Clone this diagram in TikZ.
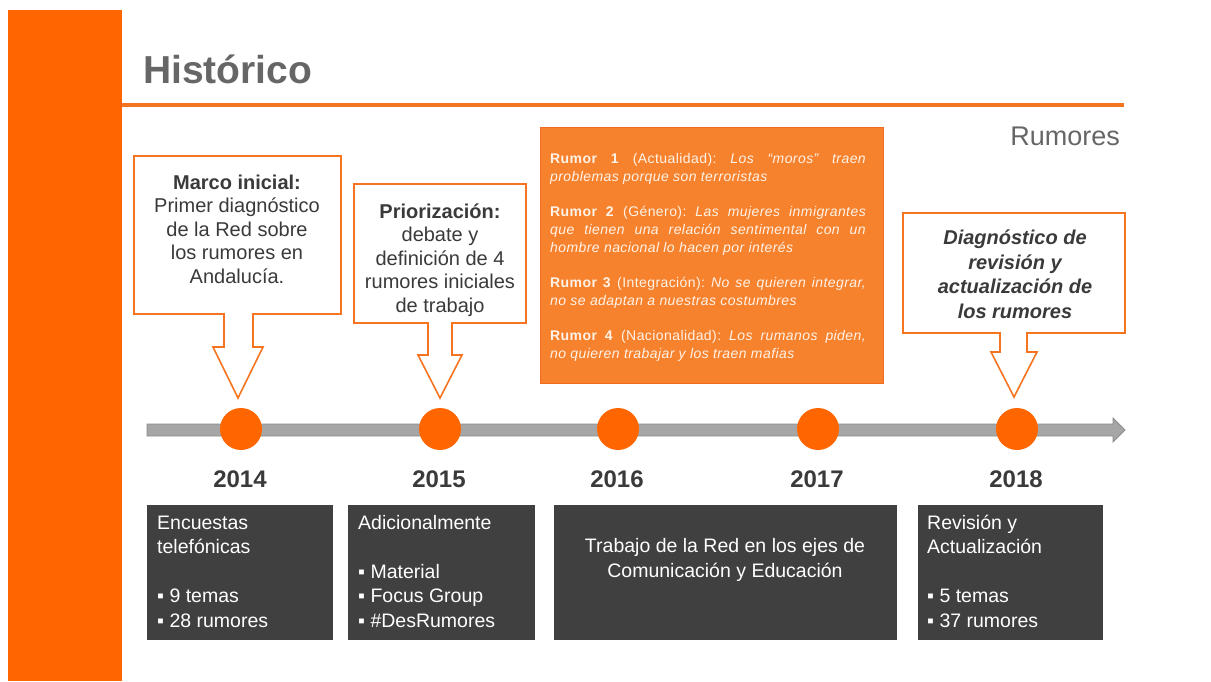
\documentclass[tikz,border=0pt]{standalone}
\usepackage{fontspec}
\setmainfont{Liberation Sans}
\newfontfamily\rumorfont[LetterSpace=3]{Liberation Sans}
\definecolor{brandorange}{HTML}{FF6600}
\definecolor{lineorange}{HTML}{F47420}
\definecolor{rumorfill}{HTML}{F7822E}
\definecolor{rumordraw}{HTML}{F26B1F}
\definecolor{rumortext}{HTML}{FFF3E8}
\definecolor{titlegray}{HTML}{666666}
\definecolor{textdark}{HTML}{3A3A3A}
\definecolor{boxgray}{HTML}{404040}
\definecolor{bargray}{HTML}{A6A6A6}
\definecolor{bardraw}{HTML}{8C8C8C}
\begin{document}
\begin{tikzpicture}[x=1pt,y=-1pt,
    callout/.style={draw=lineorange,line width=1.6pt,fill=white},
    dot/.style={circle,fill=brandorange,minimum size=42pt,inner sep=0pt},
    yearlabel/.style={anchor=base,inner sep=0pt,text=textdark,font=\fontsize{24}{28}\selectfont\bfseries},
    calltext/.style={anchor=base,align=center,inner sep=0pt,text=textdark,font=\fontsize{20}{23.5}\selectfont},
    darkbox/.style={anchor=north west,fill=boxgray,minimum height=135pt,inner sep=0pt},
    boxtext/.style={anchor=base west,align=left,inner sep=0pt,text=white,font=\fontsize{19.5}{24.5}\selectfont}]
    \useasboundingbox (0,0) rectangle (1211,681);

    \fill[brandorange] (8,10) rectangle (122,681);
    \node[anchor=base west,inner sep=0pt,text=titlegray,font=\fontsize{39}{44}\selectfont\bfseries] (title) at (143,83) {Histórico};
    \draw[lineorange,line width=3.5pt] (122,105) -- (1124,105);
    \node[anchor=base east,inner sep=0pt,text=titlegray,font=\fontsize{27}{30}\selectfont] (topic) at (1120,145) {Rumores};

    \pgfmathsetmacro{\ty}{430}
    \draw[bardraw,fill=bargray,line width=0.8pt] (147,\ty-6) -- (1113,\ty-6) -- (1113,\ty-12) -- (1125,\ty) -- (1113,\ty+12) -- (1113,\ty+6) -- (147,\ty+6) -- cycle;

    \foreach \x/\yr in {241/2014,440/2015,618/2016,818/2017,1017/2018} {
      \node[dot] (d\yr) at (\x,\ty-1) {};
      \node[yearlabel] (l\yr) at (\x-1,487) {\yr};
    }

    % multi-line texts sit on the baseline of their last line
    \draw[callout] (134,156) -- (341,156) -- (341,314) -- (253,314) -- (253,347) -- (263,347) -- (238,398) -- (213,347) -- (224,347) -- (224,314) -- (134,314) -- cycle;
    \node[calltext] (c2014) at (237,283) {\textbf{Marco inicial:}\\Primer diagnóstico\\de la Red sobre\\los rumores en\\Andalucía.};

    \draw[callout] (354,184) -- (526,184) -- (526,323) -- (452,323) -- (452,355) -- (462,355) -- (440,398) -- (418,355) -- (428,355) -- (428,323) -- (354,323) -- cycle;
    \node[calltext] (c2015) at (440,312) {\textbf{Priorización:}\\debate y\\definición de 4\\rumores iniciales\\de trabajo};

    \draw[callout] (903,213) -- (1125,213) -- (1125,333) -- (1027,333) -- (1027,352) -- (1037,352) -- (1014,397) -- (991,352) -- (1000,352) -- (1000,333) -- (903,333) -- cycle;
    \node[calltext,font=\fontsize{20}{24.5}\selectfont\bfseries\itshape] (c2018) at (1015,318) {Diagnóstico de\\revisión y\\actualización de\\los rumores};

    \node[anchor=north west,fill=rumorfill,draw=rumordraw,line width=1pt,minimum width=343pt,minimum height=256pt,inner sep=0pt] (rumors) at (540,127) {};
    \node[anchor=base west,text width=316pt,align=justify,inner sep=0pt,text=rumortext,font=\rumorfont\fontsize{14}{18}\selectfont] (rumortxt) at (550,163) {\tolerance=10000\hbadness=10000\frenchspacing
      \textbf{Rumor 1} (Actualidad): \textit{Los “moros” traen}\linebreak
      \textit{problemas porque son terroristas}\par\vspace{17pt}
      \textbf{Rumor 2} (Género): \textit{Las mujeres inmigrantes}\linebreak
      \textit{que tienen una relación sentimental con un}\linebreak
      \textit{hombre nacional lo hacen por interés}\par\vspace{17pt}
      \textbf{Rumor 3} (Integración): \textit{No se quieren integrar,}\linebreak
      \textit{no se adaptan a nuestras costumbres}\par\vspace{17pt}
      \textbf{Rumor 4} (Nacionalidad): \textit{Los rumanos piden,}\linebreak
      \textit{no quieren trabajar y los traen mafias}};

    \node[darkbox,minimum width=186pt] (b2014) at (147,505) {};
    \node[darkbox,minimum width=187pt] (b2015) at (348,505) {};
    \node[darkbox,minimum width=343pt] (b2016) at (554,505) {};
    \node[darkbox,minimum width=185pt] (b2018) at (918,505) {};

    \node[boxtext] (t2014) at (157,627) {Encuestas\\telefónicas\\[24.5pt]▪ 9 temas\\▪ 28 rumores};
    \node[boxtext] (t2015) at (358,627) {Adicionalmente\\[24.5pt]▪ Material\\▪ Focus Group\\▪ \#DesRumores};
    \node[boxtext,anchor=base,align=center] (t2016) at (725,577) {Trabajo de la Red en los ejes de\\Comunicación y Educación};
    \node[boxtext] (t2018) at (927,627) {Revisión y\\Actualización\\[24.5pt]▪ 5 temas\\▪ 37 rumores};
  \end{tikzpicture}
\end{document}
